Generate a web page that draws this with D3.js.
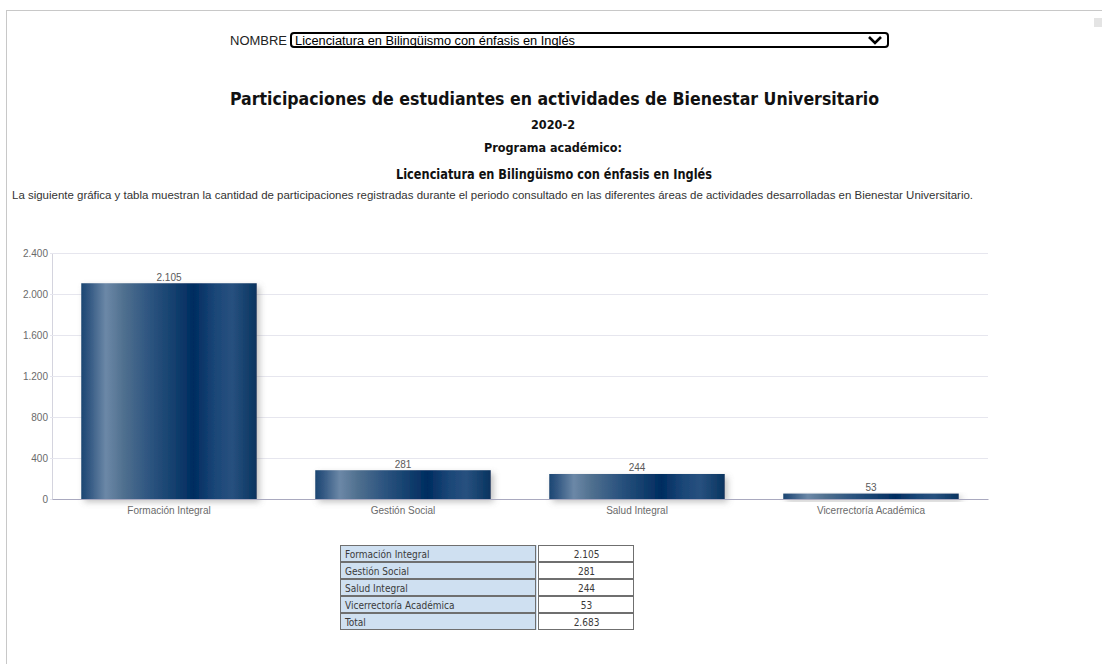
<!DOCTYPE html>
<html><head><meta charset="utf-8">
<script src="https://cdn.jsdelivr.net/npm/d3@7"></script>
<style>
html,body{margin:0;padding:0;background:#fff;}
svg{display:block;}
</style></head>
<body>
<svg id="c" width="1102" height="664"></svg>
<script>
const categories = ["Formación Integral","Gestión Social","Salud Integral","Vicerrectoría Académica"];
const values = [2105, 281, 244, 53];
const yTicks = [0, 400, 800, 1200, 1600, 2000, 2400];
const totalLabel = "Total";
const programName = "Licenciatura en Bilingüismo con énfasis en Inglés";
const period = "2020-2";

(function(){
const loc = d3.formatLocale({decimal: ",", thousands: ".", grouping: [3], currency: ["$", ""]});
const fmt = loc.format(",d");

const svg = d3.select("#c");
const sans = "'Liberation Sans', Arial, sans-serif";
const tah = "'DejaVu Sans Condensed', 'DejaVu Sans', sans-serif";

// frame
svg.append("line").attr("x1",6).attr("x2",1102).attr("y1",10.5).attr("y2",10.5).attr("stroke","#c8c8c8");
svg.append("line").attr("x1",6.5).attr("x2",6.5).attr("y1",10).attr("y2",664).attr("stroke","#c8c8c8");
svg.append("rect").attr("x",1094).attr("y",18).attr("width",8).attr("height",9).attr("fill","#e4e4e4");

// selector
svg.append("text").attr("x",230).attr("y",44.5).attr("font-family",sans).attr("font-size",12)
  .attr("fill","#222").attr("textLength",57).attr("lengthAdjust","spacingAndGlyphs").text("NOMBRE");
svg.append("rect").attr("x",291).attr("y",33).attr("width",597).attr("height",14).attr("rx",3)
  .attr("fill","#fff").attr("stroke","#000").attr("stroke-width",2);
svg.append("text").attr("x",295).attr("y",44.5).attr("font-family",sans).attr("font-size",12)
  .attr("fill","#000").attr("textLength",280).attr("lengthAdjust","spacingAndGlyphs").text(programName);
svg.append("path").attr("d","M869,37 L875,43 L881,37").attr("fill","none").attr("stroke","#000").attr("stroke-width",2.6);

// titles
function ctext(x, y, size, txt, len, weight, fam, color) {
  const t = svg.append("text").attr("x",x).attr("y",y).attr("text-anchor","middle")
    .attr("font-family",fam).attr("font-size",size).attr("font-weight",weight).attr("fill",color).text(txt);
  if (len) t.attr("textLength",len).attr("lengthAdjust","spacingAndGlyphs");
  return t;
}
ctext(554.5, 104.5, 18.5, "Participaciones de estudiantes en actividades de Bienestar Universitario", 649, "bold", tah, "#111");
ctext(553, 128.5, 12.5, period, 44, "bold", tah, "#111");
ctext(553, 152, 12.5, "Programa académico:", 138, "bold", tah, "#111");
ctext(554, 178.5, 13.5, programName, 316, "bold", tah, "#111");
svg.append("text").attr("x",12).attr("y",199).attr("font-family",sans).attr("font-size",11)
  .attr("fill","#333").attr("textLength",961).attr("lengthAdjust","spacingAndGlyphs")
  .text("La siguiente gráfica y tabla muestran la cantidad de participaciones registradas durante el periodo consultado en las diferentes áreas de actividades desarrolladas en Bienestar Universitario.");

// chart
const pLeft = 52, pRight = 988, pTop = 253, pBottom = 499;
const x = d3.scaleBand().domain(categories).range([pLeft, pRight]).paddingInner(0.25).paddingOuter(0.125);
const y = d3.scaleLinear().domain([0, 2400]).range([pBottom, pTop]);

const defs = svg.append("defs");
const g = defs.append("linearGradient").attr("id","barg").attr("x1","0%").attr("x2","100%").attr("y1","0%").attr("y2","0%");
[[0,"#1c4773"],[4,"#2f5580"],[14,"#6c88a7"],[24,"#50708f"],[38,"#2f5681"],[52,"#15416f"],[64,"#002c60"],[76,"#1a4677"],[86,"#28517f"],[100,"#07335f"]]
  .forEach(s => g.append("stop").attr("offset", s[0]+"%").attr("stop-color", s[1]));
const f = defs.append("filter").attr("id","sh").attr("x","-20%").attr("y","-20%").attr("width","150%").attr("height","160%");
f.append("feDropShadow").attr("dx",3).attr("dy",3).attr("stdDeviation",3).attr("flood-color","#777").attr("flood-opacity",0.45);

const yAxis = svg.append("g").attr("transform",`translate(${pLeft},0)`)
  .call(d3.axisLeft(y).tickValues(yTicks).tickFormat(fmt).tickSizeInner(-(pRight-pLeft)).tickSizeOuter(0).tickPadding(4));
yAxis.select(".domain").attr("stroke","#d4d4de");
yAxis.selectAll(".tick line").attr("stroke","#e6e6ee").attr("x1",-2);
yAxis.selectAll(".tick text").attr("font-family",sans).attr("font-size",10).attr("fill","#6a6a6a");

svg.append("g").selectAll("rect").data(values).join("rect")
  .attr("x",(d,i)=>x(categories[i])).attr("width",x.bandwidth())
  .attr("y",d=>y(d)).attr("height",d=>y(0)-y(d))
  .attr("fill","url(#barg)").attr("filter","url(#sh)");

const xAxis = svg.append("g").attr("transform",`translate(0,${pBottom})`)
  .call(d3.axisBottom(x).tickSize(0).tickPadding(8));
xAxis.select(".domain").attr("stroke","#a9a9bf");
xAxis.selectAll(".tick text").attr("font-family",sans).attr("font-size",10).attr("fill","#6a6a6a");

svg.append("g").selectAll("text").data(values).join("text")
  .attr("x",(d,i)=>x(categories[i])+x.bandwidth()/2).attr("y",d=>y(d)-2.5)
  .attr("text-anchor","middle").attr("font-family",sans).attr("font-size",10).attr("fill","#5a5a5a")
  .text(d=>fmt(d));

// table
const rows = categories.map((c,i)=>[c, values[i]]).concat([[totalLabel, d3.sum(values)]]);
const tx = 340, tw1 = 197, tw2 = 97, ty = 545, rh = 17;
svg.append("rect").attr("x",tx).attr("y",ty).attr("width",tw1).attr("height",rh*rows.length).attr("fill","#cfe0f1");
const tr = svg.append("g").selectAll("g").data(rows).join("g").attr("transform",(d,i)=>`translate(0,${ty+i*rh})`);
tr.append("rect").attr("x",tx+0.5).attr("y",0.5).attr("width",tw1-2).attr("height",rh-1).attr("fill","#cfe0f1").attr("stroke","#6f6f6f");
tr.append("rect").attr("x",tx+tw1+1.5).attr("y",0.5).attr("width",tw2-2).attr("height",rh-1).attr("fill","#fff").attr("stroke","#6f6f6f");
tr.append("text").attr("x",tx+5).attr("y",12.5).attr("font-family",tah).attr("font-size",10).attr("fill","#3a3a3a").text(d=>d[0]);
tr.append("text").attr("x",tx+tw1+1+tw2/2).attr("y",12.5).attr("text-anchor","middle").attr("font-family",tah).attr("font-size",10).attr("fill","#3a3a3a").text(d=>fmt(d[1]));
})();
</script>
</body></html>
